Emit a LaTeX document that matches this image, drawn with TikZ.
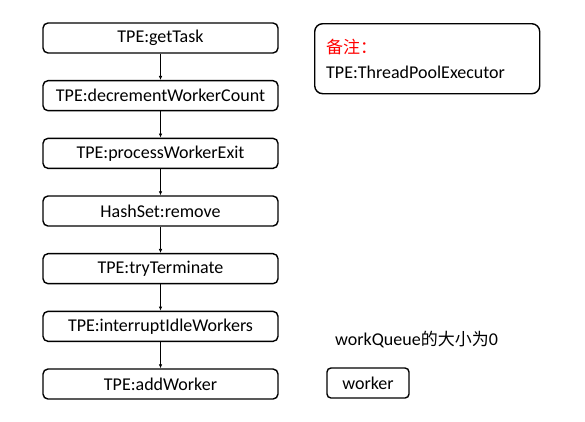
\documentclass[tikz,border=0pt]{standalone}
\usepackage{fontspec}
\setmainfont{Carlito}
\newfontfamily\cjk{Noto Sans CJK SC}
\usetikzlibrary{arrows.meta}

\begin{document}
\begin{tikzpicture}[x=1pt, y=-1pt, >={Latex[length=4pt,width=3.5pt]},
	stepbox/.style={draw, line width=1.4pt, rounded corners=5pt, minimum width=235pt, minimum height=30pt, inner sep=0pt, font=\fontsize{18}{21}\selectfont}]
		\useasboundingbox (0,0) rectangle (585,421);
		\foreach \i/\t in {0/getTask, 1/decrementWorkerCount, 2/processWorkerExit, 3/{HashSet:remove}, 4/tryTerminate, 5/interruptIdleWorkers, 6/addWorker}
			\node[stepbox] (s\i) at (160.5, 38+57.67*\i) {\ifnum\i=3 \t\else TPE:\t\fi};
		\foreach \i [evaluate=\i as \j using int(\i+1)] in {0,...,5}
			\draw[->, line width=0.7pt] (s\i) -- (s\j);
		\node[draw, line width=1.4pt, rounded corners=8pt, minimum width=225pt, minimum height=70pt, anchor=north west, inner sep=0pt] (note) at (314,23) {};
		\node[anchor=west, text=red, font=\fontsize{17}{20}\selectfont\cjk, inner sep=0pt] (notehead) at (326,47) {备注：};
		\node[anchor=west, font=\fontsize{18}{21}\selectfont, inner sep=0pt] (notebody) at (326,72) {TPE:ThreadPoolExecutor};
		\node[anchor=west, font=\fontsize{18}{21}\selectfont, inner sep=0pt] (queue) at (335,340) {workQueue{\cjk\fontsize{17}{20}\selectfont 的大小为}0};
		\node[draw, line width=1.4pt, rounded corners=4pt, minimum width=82pt, minimum height=30pt, font=\fontsize{18}{21}\selectfont, inner sep=0pt] (worker) at (368,383) {worker};
	\end{tikzpicture}
\end{document}
